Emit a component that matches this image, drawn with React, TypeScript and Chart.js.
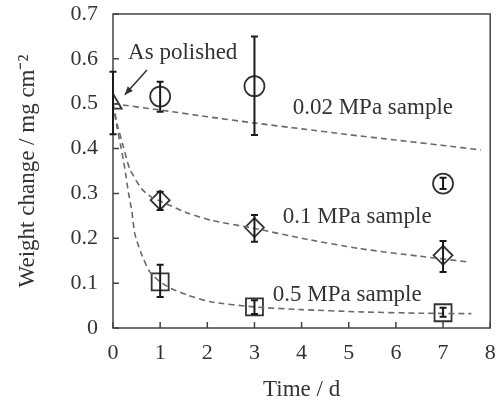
import React, { useEffect, useRef } from "react";
import { Chart, registerables } from "chart.js";

Chart.register(...registerables);

// ---- data ----
const polishedX = [0];
const polishedY = [0.5];
const polishedLow = [0.432];
const polishedHigh = [0.571];

const days = [1, 3, 7];
const mpa002Y = [0.516, 0.539, 0.322];
const mpa002Low = [0.482, 0.43, 0.31];
const mpa002High = [0.549, 0.65, 0.335];

const mpa01Y = [0.285, 0.224, 0.162];
const mpa01Low = [0.263, 0.192, 0.125];
const mpa01High = [0.304, 0.252, 0.194];

const mpa05Y = [0.103, 0.047, 0.034];
const mpa05Low = [0.069, 0.031, 0.025];
const mpa05High = [0.141, 0.062, 0.045];

// dashed trend curves
const fit002X = [0, 1, 2, 3, 4, 5, 6, 7, 7.8];
const fit002Y = [0.5, 0.486, 0.471, 0.457, 0.444, 0.431, 0.419, 0.407, 0.397];
const fit01X = [0, 0.1, 0.21, 0.35, 0.6, 0.8, 1, 1.59, 2.09, 3, 4, 5.23, 6.5, 7.56];
const fit01Y = [0.5, 0.45, 0.408, 0.356, 0.311, 0.293, 0.283, 0.256, 0.24, 0.222, 0.2, 0.177, 0.16, 0.147];
const fit05X = [0, 0.08, 0.16, 0.25, 0.33, 0.4, 0.46, 0.6, 0.78, 1, 1.23, 1.59, 2.09, 3, 4, 5.23, 6.5, 7.6];
const fit05Y = [0.5, 0.45, 0.408, 0.356, 0.3, 0.26, 0.211, 0.166, 0.125, 0.103, 0.088, 0.073, 0.058, 0.047, 0.041, 0.036, 0.033, 0.032];

const xTicks = [0, 1, 2, 3, 4, 5, 6, 7, 8];
const yTicks = [0, 0.1, 0.2, 0.3, 0.4, 0.5, 0.6, 0.7];

const labels = [
  { text: "As polished", x: 0.32, y: 0.613 },
  { text: "0.02 MPa sample", x: 3.81, y: 0.49 },
  { text: "0.1 MPa sample", x: 3.6, y: 0.247 },
  { text: "0.5 MPa sample", x: 3.39, y: 0.073 },
];
const arrowFrom = { x: 0.72, y: 0.575 };
const arrowTo = { x: 0.25, y: 0.52 };

const SERIF = '"Liberation Serif", "Times New Roman", serif';
const INK = "#333333";

const pts = (xs: number[], ys: number[]) => xs.map((x, i) => ({ x, y: ys[i] }));

const errorSets = [
  { xs: polishedX, lo: polishedLow, hi: polishedHigh },
  { xs: days, lo: mpa002Low, hi: mpa002High },
  { xs: days, lo: mpa01Low, hi: mpa01High },
  { xs: days, lo: mpa05Low, hi: mpa05High },
];

const decorPlugin = {
  id: "decor",
  afterDatasetsDraw(chart: any) {
    const { ctx, chartArea: a, scales } = chart;
    const xs = scales.x;
    const ys = scales.y;
    ctx.save();
    // box
    ctx.strokeStyle = "#444";
    ctx.lineWidth = 1.5;
    ctx.strokeRect(a.left, a.top, a.right - a.left, a.bottom - a.top);
    // inward ticks
    ctx.beginPath();
    xTicks.forEach((t) => {
      const px = xs.getPixelForValue(t);
      ctx.moveTo(px, a.bottom);
      ctx.lineTo(px, a.bottom - 6);
    });
    yTicks.forEach((t) => {
      const py = ys.getPixelForValue(t);
      ctx.moveTo(a.left, py);
      ctx.lineTo(a.left + 6, py);
    });
    ctx.stroke();
    // error bars
    ctx.strokeStyle = "#1a1a1a";
    ctx.lineWidth = 2;
    errorSets.forEach((s) => {
      s.xs.forEach((x, i) => {
        const px = xs.getPixelForValue(x);
        const p1 = ys.getPixelForValue(s.lo[i]);
        const p2 = ys.getPixelForValue(s.hi[i]);
        ctx.beginPath();
        ctx.moveTo(px, p1);
        ctx.lineTo(px, p2);
        ctx.moveTo(px - 3.5, p1);
        ctx.lineTo(px + 3.5, p1);
        ctx.moveTo(px - 3.5, p2);
        ctx.lineTo(px + 3.5, p2);
        ctx.stroke();
      });
    });
    // annotations
    ctx.fillStyle = INK;
    ctx.font = `23px ${SERIF}`;
    ctx.textAlign = "left";
    ctx.textBaseline = "middle";
    labels.forEach((l) => {
      ctx.fillText(l.text, xs.getPixelForValue(l.x), ys.getPixelForValue(l.y));
    });
    // arrow
    const fx = xs.getPixelForValue(arrowFrom.x);
    const fy = ys.getPixelForValue(arrowFrom.y);
    const tx = xs.getPixelForValue(arrowTo.x);
    const ty = ys.getPixelForValue(arrowTo.y);
    ctx.strokeStyle = INK;
    ctx.lineWidth = 1.5;
    ctx.beginPath();
    ctx.moveTo(fx, fy);
    ctx.lineTo(tx, ty);
    ctx.stroke();
    const ang = Math.atan2(ty - fy, tx - fx);
    ctx.beginPath();
    ctx.moveTo(tx, ty);
    ctx.lineTo(tx - 9 * Math.cos(ang - 0.4), ty - 9 * Math.sin(ang - 0.4));
    ctx.lineTo(tx - 9 * Math.cos(ang + 0.4), ty - 9 * Math.sin(ang + 0.4));
    ctx.closePath();
    ctx.fillStyle = INK;
    ctx.fill();
    ctx.restore();
  },
};

export default function App() {
  const ref = useRef<HTMLCanvasElement | null>(null);
  useEffect(() => {
    document.body.style.margin = "0";
    if (!ref.current) return;
    const dashed = (xs: number[], ys: number[]) => ({
      type: "line" as const,
      data: pts(xs, ys),
      borderColor: "#6a6a6a",
      borderWidth: 1.6,
      borderDash: [6, 4],
      pointRadius: 0,
      fill: false,
      tension: 0.2,
    });
    const marker = (xs: number[], ys: number[], style: string, r: number) => ({
      type: "scatter" as const,
      data: pts(xs, ys),
      pointStyle: style,
      pointRadius: r,
      borderColor: INK,
      backgroundColor: "rgba(0,0,0,0)",
      pointBorderWidth: 1.8,
      showLine: false,
    });
    const chart = new Chart(ref.current, {
      type: "scatter",
      data: {
        datasets: [
          dashed(fit002X, fit002Y),
          dashed(fit01X, fit01Y),
          dashed(fit05X, fit05Y),
          marker(polishedX, polishedY, "triangle", 10),
          marker(days, mpa002Y, "circle", 10),
          marker(days, mpa01Y, "rectRot", 9.5),
          marker(days, mpa05Y, "rect", 12),
        ] as any,
      },
      options: {
        responsive: false,
        animation: false,
        layout: { padding: { top: 14, right: 13, left: 0, bottom: 0 } },
        plugins: { legend: { display: false }, tooltip: { enabled: false } },
        scales: {
          x: {
            type: "linear",
            min: 0,
            max: 8,
            afterFit: (s: any) => {
              s.height = 76;
              s.paddingLeft = 0;
              s.paddingRight = 0;
            },
            afterBuildTicks: (s: any) => {
              s.ticks = xTicks.map((v) => ({ value: v }));
            },
            grid: { display: false, drawTicks: false },
            border: { display: false },
            ticks: {
              padding: 12,
              color: INK,
              font: { family: SERIF, size: 22 },
              callback: (v: any) => String(v),
            },
            title: {
              display: true,
              text: "Time / d",
              color: INK,
              font: { family: SERIF, size: 23 },
              padding: { top: 0, bottom: 0 },
            },
          },
          y: {
            type: "linear",
            min: 0,
            max: 0.7,
            afterFit: (s: any) => {
              s.width = 113;
              s.paddingTop = 0;
              s.paddingBottom = 0;
            },
            afterBuildTicks: (s: any) => {
              s.ticks = yTicks.map((v) => ({ value: v }));
            },
            grid: { display: false, drawTicks: false },
            border: { display: false },
            ticks: {
              padding: 15,
              color: INK,
              font: { family: SERIF, size: 22 },
              callback: (v: any) => (v === 0 ? "0" : Number(v).toFixed(1)),
            },
            title: {
              display: true,
              text: "Weight change / mg cm\u207B\u00B2",
              color: INK,
              font: { family: SERIF, size: 23 },
              padding: { top: 14, bottom: 0 },
            },
          },
        },
      },
      plugins: [decorPlugin],
    });
    return () => chart.destroy();
  }, []);
  return (
    <div style={{ width: 504, height: 404, background: "#fff" }}>
      <canvas ref={ref} width={504} height={404} />
    </div>
  );
}
